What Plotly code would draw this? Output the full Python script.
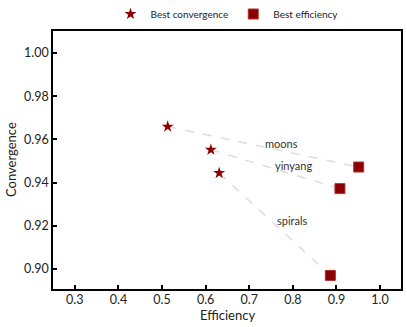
import plotly.graph_objects as go

# Data
datasets = ["moons", "yinyang", "spirals"]
conv_x = [0.513, 0.612, 0.631]
conv_y = [0.9659, 0.9552, 0.9444]
eff_x = [0.951, 0.908, 0.886]
eff_y = [0.9472, 0.9372, 0.8970]
x_ticks = [0.3, 0.4, 0.5, 0.6, 0.7, 0.8, 0.9, 1.0]
y_ticks = [0.90, 0.92, 0.94, 0.96, 0.98, 1.00]

red = "#8b0000"
font_family = "Lato, 'Liberation Sans', sans-serif"
text_color = "#222222"

fig = go.Figure()

# connecting dashed lines
for i, name in enumerate(datasets):
    fig.add_trace(go.Scatter(
        x=[conv_x[i], eff_x[i]], y=[conv_y[i], eff_y[i]],
        mode="lines", line=dict(color="#dddddd", width=1.5, dash="dash"),
        showlegend=False, hoverinfo="skip"))

fig.add_trace(go.Scatter(
    x=conv_x, y=conv_y, mode="markers", name="Best convergence",
    marker=dict(symbol="star", size=9, color=red, line=dict(width=0))))
fig.add_trace(go.Scatter(
    x=eff_x, y=eff_y, mode="markers", name="Best efficiency",
    marker=dict(symbol="square", size=10, color=red,
                line=dict(width=1, color="#b03030"))))

# dataset labels near the midpoint of each segment
annotations = []
for i, name in enumerate(datasets):
    annotations.append(dict(
        x=(conv_x[i] + eff_x[i]) / 2 + 0.041,
        y=(conv_y[i] + eff_y[i]) / 2 + 0.0015,
        text=name, showarrow=False,
        font=dict(size=11, color="#333333", family=font_family)))

# axis titles as annotations so they sit exactly where the reference has them
annotations.append(dict(xref="paper", yref="paper", x=0.5, y=0, yanchor="middle",
                        yshift=-26, text="Efficiency", showarrow=False,
                        font=dict(size=13, color=text_color, family=font_family)))
annotations.append(dict(xref="paper", yref="paper", x=0, y=0.5, xanchor="center",
                        xshift=-42, textangle=-90, text="Convergence", showarrow=False,
                        font=dict(size=13, color=text_color, family=font_family)))

axis_common = dict(
    showline=True, mirror=True, linecolor="black", linewidth=1.5,
    showgrid=False, zeroline=False, automargin=False,
    ticks="inside", ticklen=4, tickwidth=2, tickcolor="black",
    tickfont=dict(size=12.5, color=text_color, family=font_family),
)

fig.update_layout(
    width=407, height=327,
    margin=dict(l=53, r=6, t=31, b=38),
    plot_bgcolor="white", paper_bgcolor="white",
    xaxis=dict(range=[0.25, 1.048], tickvals=x_ticks,
               ticktext=[f"{v:.1f}" for v in x_ticks], ticklabelstandoff=-2,
               **axis_common),
    yaxis=dict(range=[0.8907, 1.0102], tickvals=y_ticks, tickformat=".2f",
               **axis_common),
    legend=dict(orientation="h", x=0.5, xanchor="center",
                yref="container", y=1 - 14 / 327, yanchor="middle",
                itemwidth=30,
                font=dict(size=10, color=text_color, family=font_family),
                bgcolor="rgba(0,0,0,0)"),
    annotations=annotations,
)

# drop the default page margin so the 407x327 figure fills the window
fig.write_html("out.html", config={"displayModeBar": False},
               post_script="document.body.style.margin='0';")
